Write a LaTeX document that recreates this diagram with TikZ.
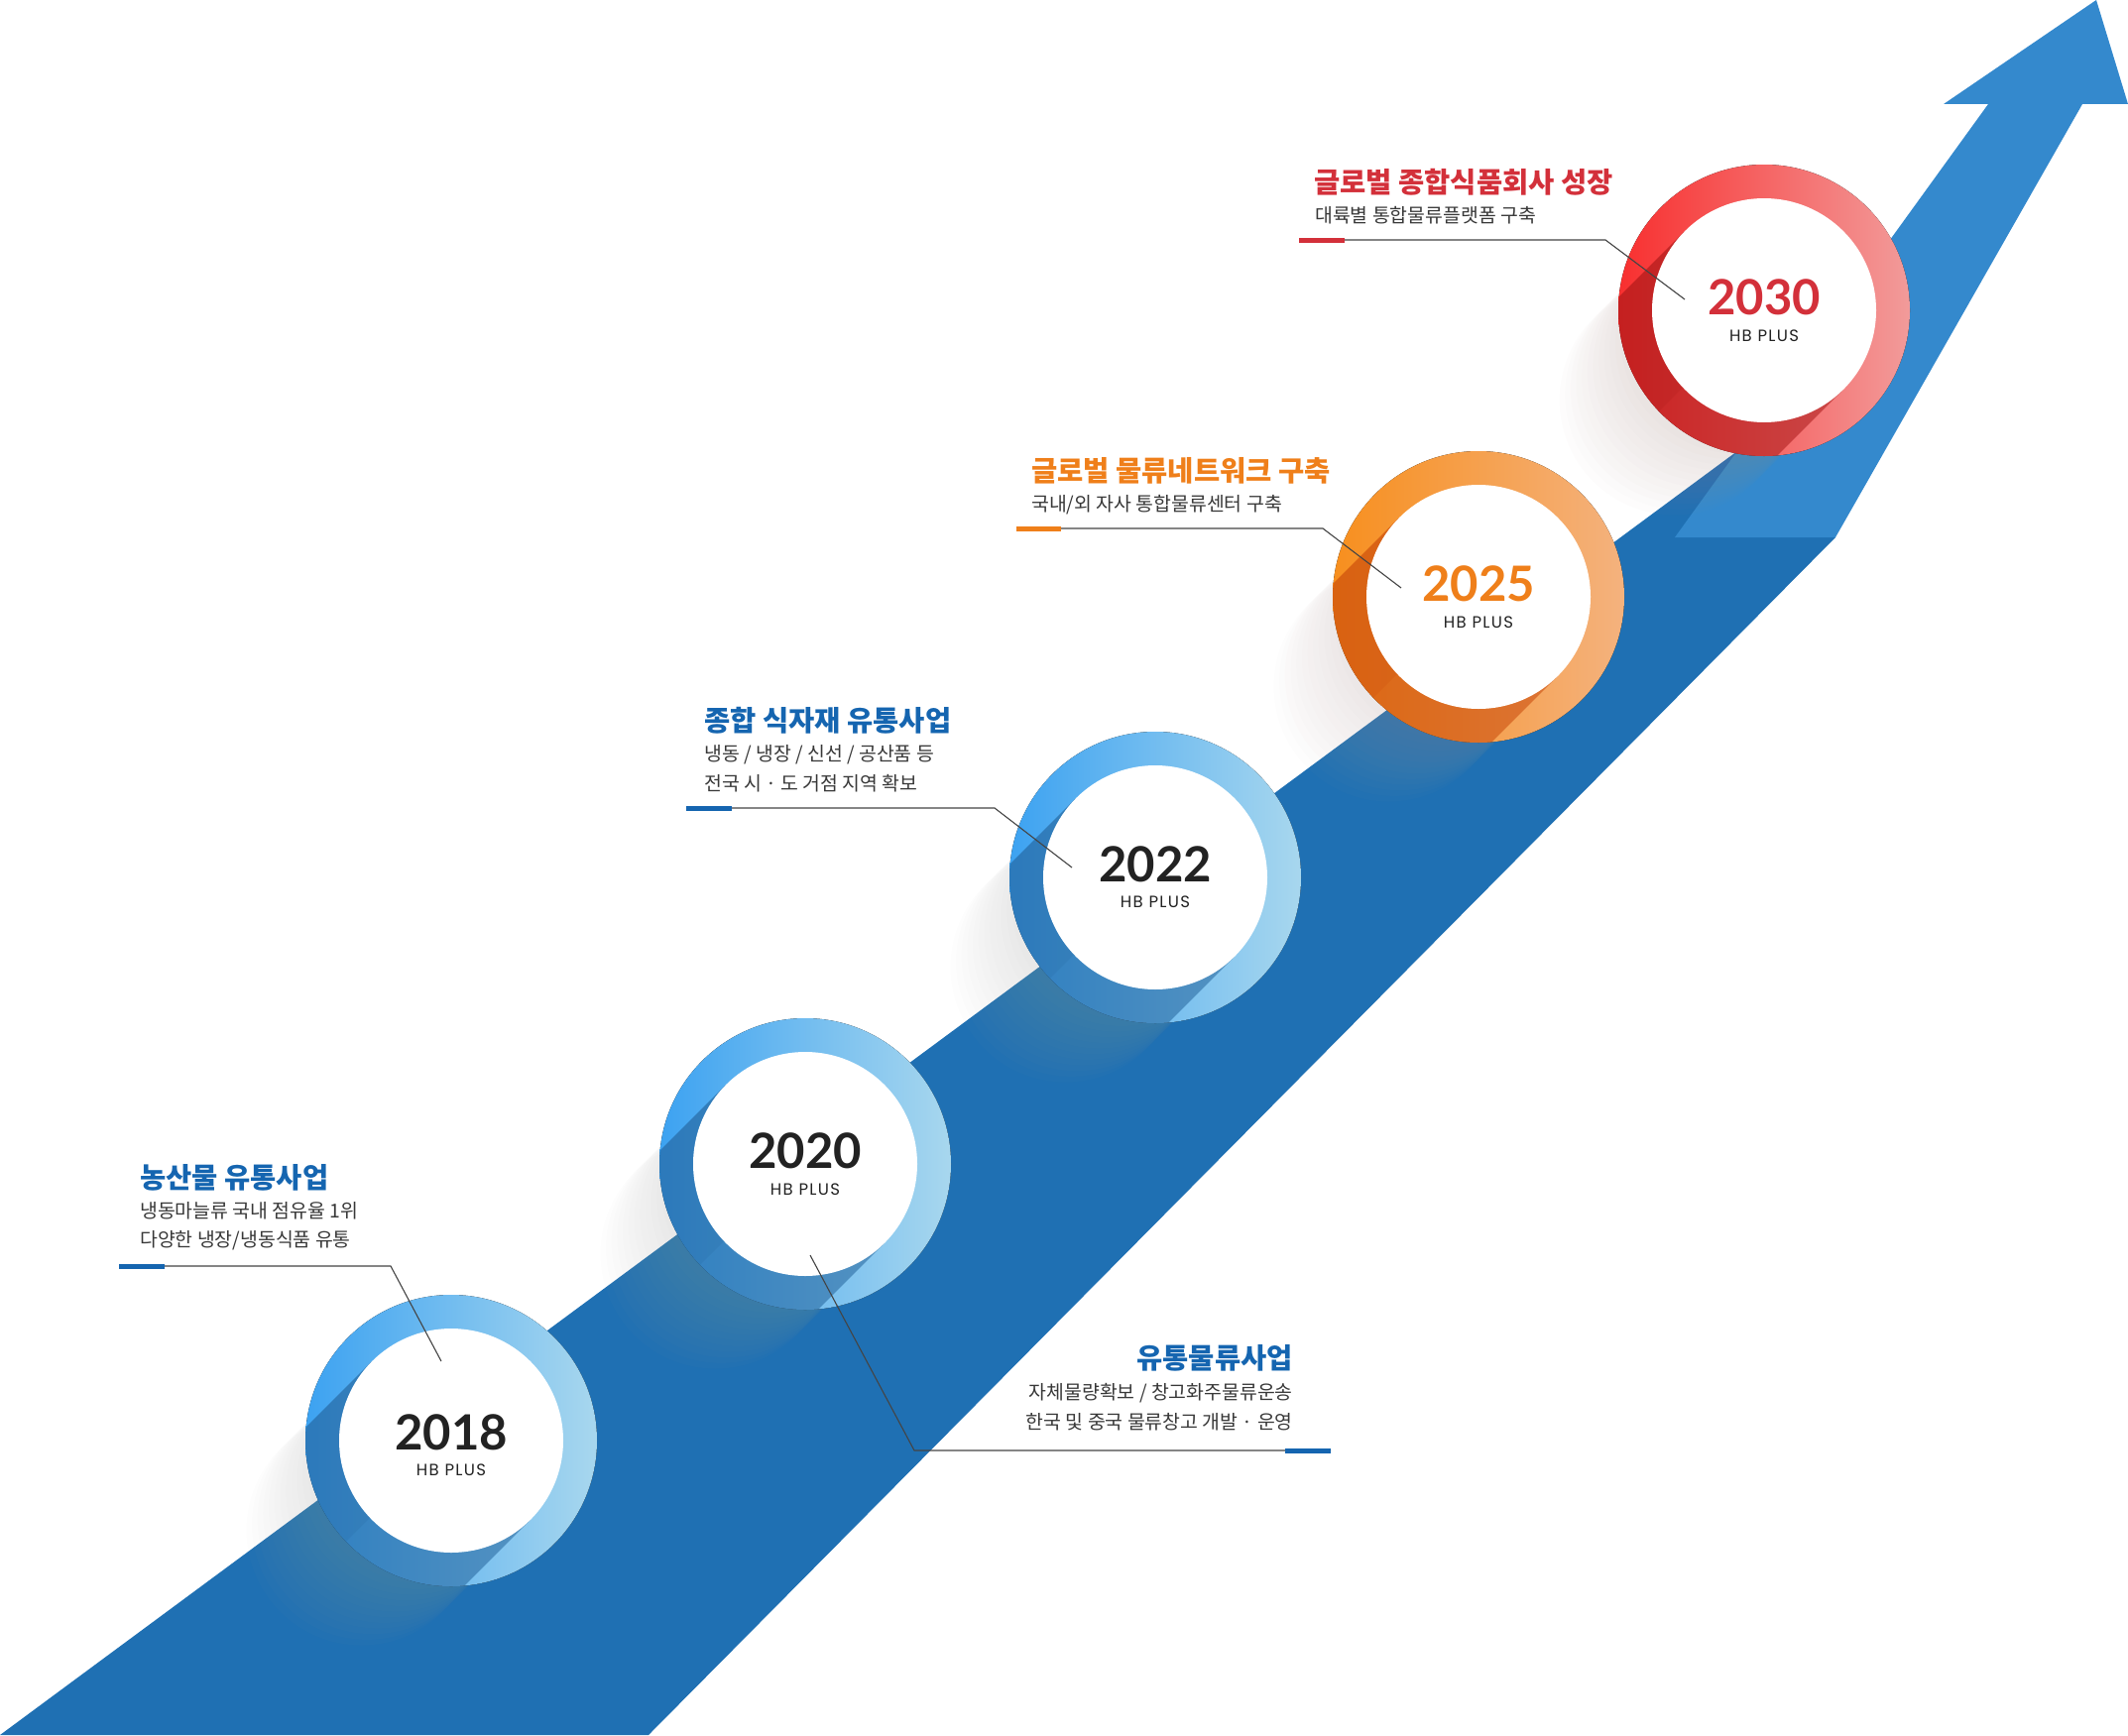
\documentclass[tikz,border=0pt]{standalone}
\usepackage{fontspec}
\newfontfamily\krfont{Noto Sans CJK KR}
\newfontfamily\yearfont{Lato}
\newfontfamily\brandfont{Poppins}[LetterSpace=8]
\definecolor{bandblue}{HTML}{1F70B3}
\definecolor{arrowblue}{HTML}{3489CD}
\definecolor{blueA}{HTML}{3CA2F1}
\definecolor{blueB}{HTML}{A8D7EE}
\definecolor{blueF}{HTML}{24649C}
\definecolor{orangeA}{HTML}{F78F1E}
\definecolor{orangeB}{HTML}{F4B27E}
\definecolor{orangeF}{HTML}{C8480A}
\definecolor{redA}{HTML}{F82F2F}
\definecolor{redB}{HTML}{F29B9A}
\definecolor{redF}{HTML}{A81818}
\definecolor{titleblue}{HTML}{1565B0}
\definecolor{titleorange}{HTML}{EF7F1A}
\definecolor{titlered}{HTML}{D3303A}
\definecolor{subgray}{HTML}{383838}
\definecolor{yeargray}{HTML}{222222}
\definecolor{linegray}{HTML}{444444}
\definecolor{shadeblue}{HTML}{A5A5A5}
\definecolor{shadeorange}{HTML}{B4A0A0}
\definecolor{shadered}{HTML}{AC928C}

\begin{document}
\begin{tikzpicture}[x=1pt,y=-1pt,
        title/.style={anchor=west,inner sep=0pt,font=\krfont\bfseries\fontsize{28.5}{32}\selectfont},
        sub/.style={anchor=west,inner sep=0pt,text=subgray,font=\krfont\fontsize{19.4}{23}\selectfont},
        year/.style={inner sep=0pt,font=\yearfont\bfseries\fontsize{49}{49}\selectfont},
        brand/.style={inner sep=0pt,text=yeargray,font=\brandfont\fontsize{16.5}{17}\selectfont},
        pointer/.style={draw=linegray,line width=1.1pt},
        marker/.style={line width=5pt}]
        \useasboundingbox (0,0) rectangle (2146,1750);
        \fill[bandblue] (0,1750) -- (1752,455) -- (1851,542) -- (654,1750) -- cycle;
        \fill[arrowblue] (1689,542) -- (2005,105) -- (1960,105) -- (2114,0) -- (2146,105) -- (2100,105) -- (1851,542) -- cycle;
        \foreach \cx/\cy/\ca/\cb/\cf/\sh in {455/1453/blueA/blueB/blueF/shadeblue, 812/1174/blueA/blueB/blueF/shadeblue, 1165/885/blueA/blueB/blueF/shadeblue, 1491/602/orangeA/orangeB/orangeF/shadeorange, 1779/313/redA/redB/redF/shadered} {
            \foreach \s in {8,16,...,128}
                \fill[\sh,opacity=.025] (\cx-0.707*\s,\cy+0.707*\s) circle (116);
            \fill[left color=\ca,right color=\cb] (\cx,\cy) circle (147);
            \begin{scope}
                \clip (\cx,\cy) circle (147);
                \fill[\cf,opacity=.55] (\cx,\cy) ++(225:113) -- ++(135:320) -- ++(45:226) -- ++(-45:320) -- cycle;
                \fill[\cf,opacity=.18] (\cx,\cy) ++(225:113) -- ++(135:320) -- ++(45:110) -- ++(-45:320) -- cycle;
            \end{scope}
            \fill[white] (\cx,\cy) circle (113);
        }
        \node[year,text=yeargray] (y18) at (455,1445) {2018};
        \node[brand] (b18) at (455,1483) {HB PLUS};
        \node[year,text=yeargray] (y20) at (812,1161) {2020};
        \node[brand] (b20) at (812,1200) {HB PLUS};
        \node[year,text=yeargray] (y22) at (1165,872) {2022};
        \node[brand] (b22) at (1165,910) {HB PLUS};
        \node[year,text=titleorange] (y25) at (1491,589) {2025};
        \node[brand] (b25) at (1491,628) {HB PLUS};
        \node[year,text=titlered] (y30) at (1779,300) {2030};
        \node[brand] (b30) at (1779,339) {HB PLUS};

        \node[title,text=titleblue] (t18) at (141,1188) {농산물 유통사업};
        \node[sub] (s18a) at (141,1221) {냉동마늘류 국내 점유율 1위};
        \node[sub] (s18b) at (141,1251) {다양한 냉장/냉동식품 유통};
        \node[title,anchor=east,text=titleblue] (t20) at (1304,1370) {유통물류사업};
        \node[sub,anchor=east] (s20a) at (1304,1405) {자체물량확보 / 창고화주물류운송};
        \node[sub,anchor=east] (s20b) at (1304,1434) {한국 및 중국 물류창고 개발 · 운영};
        \node[title,text=titleblue] (t22) at (710,727) {종합 식자재 유통사업};
        \node[sub] (s22a) at (710,761) {냉동 / 냉장 / 신선 / 공산품 등};
        \node[sub] (s22b) at (710,790) {전국 시 · 도 거점 지역 확보};
        \node[title,text=titleorange] (t25) at (1040,475) {글로벌 물류네트워크 구축};
        \node[sub] (s25) at (1040,509) {국내/외 자사 통합물류센터 구축};
        \node[title,text=titlered] (t30) at (1325,184) {글로벌 종합식품회사 성장};
        \node[sub] (s30) at (1326,217) {대륙별 통합물류플랫폼 구축};

        \coordinate (m18) at (120,1277);
        \coordinate (k18) at (394,1277);
        \coordinate (e18) at (445,1373);
        \coordinate (e20) at (817,1266);
        \coordinate (k20) at (922,1463);
        \coordinate (m20) at (1342,1463);
        \coordinate (m22) at (692,815);
        \coordinate (k22) at (1003,815);
        \coordinate (e22) at (1081,875);
        \coordinate (m25) at (1025,533);
        \coordinate (k25) at (1334,533);
        \coordinate (e25) at (1413,593);
        \coordinate (m30) at (1310,242);
        \coordinate (k30) at (1619,242);
        \coordinate (e30) at (1699,302);
        \draw[pointer] (m18) -- (k18) -- (e18);
        \draw[pointer] (e20) -- (k20) -- (m20);
        \draw[pointer] (m22) -- (k22) -- (e22);
        \draw[pointer] (m25) -- (k25) -- (e25);
        \draw[pointer] (m30) -- (k30) -- (e30);
        \draw[marker,titleblue] (m18) -- ++(46,0);
        \draw[marker,titleblue] (m20) -- ++(-46,0);
        \draw[marker,titleblue] (m22) -- ++(46,0);
        \draw[marker,titleorange] (m25) -- ++(45,0);
        \draw[marker,titlered] (m30) -- ++(46,0);
\end{tikzpicture}
\end{document}
